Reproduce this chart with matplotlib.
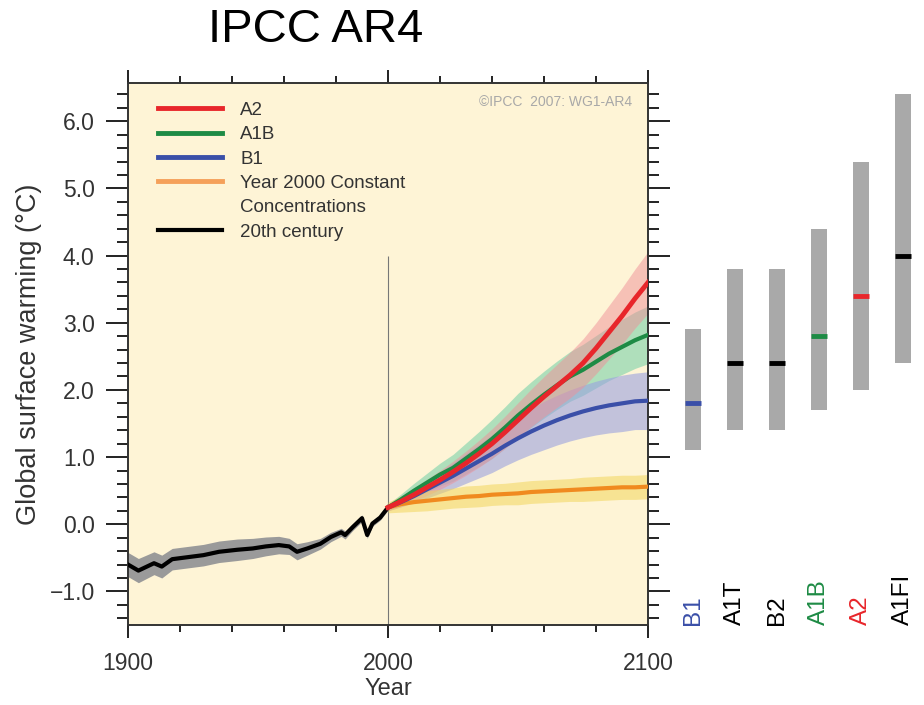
import matplotlib
matplotlib.use("Agg")
import matplotlib.pyplot as plt
from matplotlib.lines import Line2D
from matplotlib.ticker import MultipleLocator, FuncFormatter

plt.rcParams['font.family'] = ['Liberation Sans', 'DejaVu Sans']

hist_years = [1900, 1904, 1910, 1913, 1917, 1923, 1929, 1935, 1942, 1948, 1953, 1958,
              1962, 1965, 1969, 1974, 1978, 1982, 1983.5, 1986.5, 1990, 1992, 1994, 1997, 2000]
hist_vals = [-0.60, -0.69, -0.58, -0.63, -0.52, -0.49, -0.46, -0.41, -0.38, -0.36, -0.33, -0.31,
             -0.33, -0.41, -0.36, -0.29, -0.19, -0.12, -0.16, -0.04, 0.09, -0.16, 0.01, 0.10, 0.25]
hist_spread = [0.18, 0.18, 0.17, 0.17, 0.16, 0.16, 0.16, 0.16, 0.16, 0.15, 0.14, 0.13,
               0.12, 0.12, 0.10, 0.08, 0.07, 0.06, 0.06, 0.05, 0.05, 0.05, 0.04, 0.04, 0.04]

# scenario projections, every 5 years 2000-2100
fut_years = list(range(2000, 2101, 5))
a2 = [0.25, 0.34, 0.44, 0.55, 0.66, 0.78, 0.91, 1.05, 1.20, 1.37, 1.55,
      1.73, 1.90, 2.06, 2.22, 2.40, 2.62, 2.86, 3.10, 3.36, 3.60]
a2_spread = [0.05, 0.08, 0.10, 0.12, 0.14, 0.16, 0.18, 0.20, 0.22, 0.24, 0.26,
             0.28, 0.30, 0.32, 0.34, 0.36, 0.38, 0.40, 0.42, 0.44, 0.46]
a1b = [0.25, 0.37, 0.50, 0.62, 0.74, 0.84, 0.98, 1.12, 1.27, 1.44, 1.62,
       1.78, 1.93, 2.07, 2.20, 2.30, 2.42, 2.54, 2.64, 2.74, 2.82]
a1b_spread = [0.05, 0.08, 0.11, 0.14, 0.17, 0.20, 0.23, 0.26, 0.29, 0.31, 0.33,
              0.34, 0.35, 0.36, 0.37, 0.38, 0.39, 0.40, 0.41, 0.42, 0.43]
b1 = [0.25, 0.33, 0.42, 0.52, 0.62, 0.72, 0.83, 0.94, 1.05, 1.17, 1.28,
      1.38, 1.47, 1.55, 1.62, 1.68, 1.73, 1.77, 1.80, 1.83, 1.84]
b1_spread = [0.05, 0.07, 0.10, 0.13, 0.16, 0.19, 0.22, 0.25, 0.28, 0.30, 0.32,
             0.34, 0.36, 0.37, 0.38, 0.39, 0.40, 0.41, 0.42, 0.42, 0.43]
commit = [0.25, 0.30, 0.33, 0.35, 0.37, 0.39, 0.41, 0.42, 0.44, 0.45, 0.46,
          0.48, 0.49, 0.50, 0.51, 0.52, 0.53, 0.54, 0.55, 0.55, 0.56]
commit_spread = [0.08, 0.12, 0.14, 0.15, 0.15, 0.15, 0.16, 0.16, 0.16, 0.16, 0.17,
                 0.17, 0.17, 0.17, 0.17, 0.18, 0.18, 0.18, 0.18, 0.18, 0.18]

# likely ranges at 2100 (right-hand bars)
bar_names = ['B1', 'A1T', 'B2', 'A1B', 'A2', 'A1FI']
bar_low = [1.1, 1.4, 1.4, 1.7, 2.0, 2.4]
bar_high = [2.9, 3.8, 3.8, 4.4, 5.4, 6.4]
bar_best = [1.8, 2.4, 2.4, 2.8, 3.4, 4.0]
bar_colors = ['#3a4fa8', 'black', 'black', '#1e8b45', '#e8262b', 'black']

RED, GREEN, BLUE, ORANGE = '#e8262b', '#1e8b45', '#3a4fa8', '#f08a1f'


def band(vals, spread, sign):
    return [v + sign * s for v, s in zip(vals, spread)]


fig = plt.figure(figsize=(9.24, 7.05), dpi=100)
ax = fig.add_axes([128 / 924, 1 - 625 / 705, 520 / 924, 542 / 705])
ax.set_facecolor('#fef4d6')

ax.vlines(2000, -1.5, 4.0, color='#777777', lw=0.8, zorder=1)

ax.fill_between(hist_years, band(hist_vals, hist_spread, -1), band(hist_vals, hist_spread, 1),
                color='#9a9a9a', lw=0, zorder=2)
ax.fill_between(fut_years, band(a1b, a1b_spread, -1), band(a1b, a1b_spread, 1),
                color='#6fcfa6', alpha=0.55, lw=0, zorder=2)
ax.fill_between(fut_years, band(b1, b1_spread, -1), band(b1, b1_spread, 1),
                color='#9aa2e0', alpha=0.6, lw=0, zorder=2)
ax.fill_between(fut_years, band(a2, a2_spread, -1), band(a2, a2_spread, 1),
                color='#f08f98', alpha=0.5, lw=0, zorder=2)
ax.fill_between(fut_years, band(commit, commit_spread, -1), band(commit, commit_spread, 1),
                color='#f2d65c', alpha=0.55, lw=0, zorder=2)

ax.plot(hist_years, hist_vals, color='black', lw=3, zorder=4)
ax.plot(fut_years, commit, color=ORANGE, lw=3, zorder=4)
ax.plot(fut_years, b1, color=BLUE, lw=3, zorder=4)
ax.plot(fut_years, a1b, color=GREEN, lw=3, zorder=4)
ax.plot(fut_years, a2, color=RED, lw=3.5, zorder=5)

ax.set_xlim(1900, 2100)
ax.set_ylim(-1.5, 6.57)
ax.set_xticks([1900, 2000, 2100])
ax.xaxis.set_minor_locator(MultipleLocator(20))
ax.yaxis.set_major_locator(MultipleLocator(1.0))
ax.yaxis.set_minor_locator(MultipleLocator(0.2))
ax.yaxis.set_major_formatter(FuncFormatter(lambda v, p: f"{v:.1f}".replace('-', '\u2212')))
ax.set_yticks([-1, 0, 1, 2, 3, 4, 5, 6])

ax.tick_params(which='both', direction='out', top=True, right=True,
               colors='#222222', labelcolor='#333333', labelsize=16.5, width=1.4)
ax.tick_params(axis='y', which='major', length=16, pad=8)
ax.tick_params(axis='y', which='minor', length=8)
ax.tick_params(axis='x', which='major', length=9.5, pad=10)
ax.tick_params(axis='x', which='minor', length=5)
for s in ax.spines.values():
    s.set_color('#333333')
    s.set_linewidth(1.4)

ax.set_xlabel('Year', fontsize=17, color='#333333', labelpad=2)
ax.set_ylabel('Global surface warming (\u00b0C)', fontsize=19.5, color='#333333', labelpad=5)

handles = [Line2D([], [], color=RED, lw=3.5),
           Line2D([], [], color=GREEN, lw=3.5),
           Line2D([], [], color=BLUE, lw=3.5),
           Line2D([], [], color='#f5a05a', lw=3.5),
           Line2D([], [], color='none'),
           Line2D([], [], color='black', lw=3)]
labels = ['A2', 'A1B', 'B1', 'Year 2000 Constant', 'Concentrations', '20th century']
leg = ax.legend(handles, labels, loc='upper left', bbox_to_anchor=(0.025, 0.997), frameon=False,
                fontsize=13.5, handlelength=3.4, handletextpad=1.0, labelspacing=0.39)
for t in leg.get_texts():
    t.set_color('#333333')

ax.text(0.97, 0.965, '\u00a9IPCC  2007: WG1-AR4', transform=ax.transAxes, ha='right', va='center',
        fontsize=10, color='#a8a8a8')

# right-hand bars share the same y scale
ax2 = fig.add_axes([648 / 924, 1 - 625 / 705, 276 / 924, 542 / 705], sharey=ax)
ax2.set_xlim(-1.07, 5.5)
ax2.axis('off')
xs = list(range(len(bar_names)))
ax2.bar(xs, [h - l for h, l in zip(bar_high, bar_low)], bottom=bar_low, width=0.4,
        color='#a9a9a9', lw=0)
for x, b, c in zip(xs, bar_best, bar_colors):
    ax2.hlines(b, x - 0.2, x + 0.2, color=c, lw=3.5)
for x, name, c in zip(xs, bar_names, bar_colors):
    ax2.text(x, -1.5, name, rotation=90, ha='center', va='bottom', fontsize=17.5, color=c)

fig.text(316 / 924, 1 - 30 / 705, 'IPCC AR4', ha='center', va='center', fontsize=34, color='black')

fig.savefig('out.png', dpi=100)
